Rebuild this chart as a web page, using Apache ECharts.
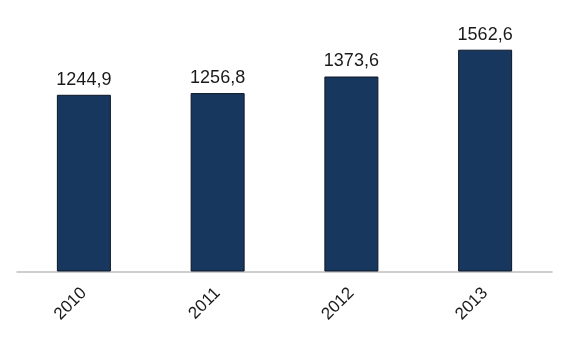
<!DOCTYPE html>
<html>
<head>
<meta charset="utf-8">
<script src="https://cdn.jsdelivr.net/npm/echarts@6/dist/echarts.min.js"></script>
<style>html,body{margin:0;padding:0;background:#fff}#c{width:568px;height:339px}</style>
</head>
<body>
<div id="c"></div>
<script>
var categories = ['2010', '2011', '2012', '2013'];
var values = [1244.9, 1256.8, 1373.6, 1562.6];

var chart = echarts.init(document.getElementById('c'), null, {renderer: 'canvas'});
chart.setOption({
  animation: false,
  backgroundColor: '#ffffff',
  grid: {left: 17, right: 16, top: 16, bottom: 67.5, containLabel: false},
  xAxis: {
    type: 'category',
    data: categories,
    axisLine: {lineStyle: {color: '#bfbfbf', width: 1.5}},
    axisTick: {show: false},
    axisLabel: {
      rotate: 45,
      margin: 19,
      fontFamily: 'Liberation Sans, Arial, sans-serif',
      fontSize: 17,
      color: '#1a1a1a'
    }
  },
  yAxis: {
    type: 'value',
    min: 0,
    max: 1800,
    show: false,
    splitLine: {show: false}
  },
  series: [{
    type: 'bar',
    data: values,
    barWidth: 54,
    itemStyle: {color: '#18375f', borderColor: '#0b1626', borderWidth: 1},
    label: {
      show: true,
      position: 'top',
      distance: 6,
      fontFamily: 'Liberation Sans, Arial, sans-serif',
      fontSize: 18,
      color: '#1a1a1a',
      formatter: function (p) { return p.value.toFixed(1).replace('.', ','); }
    }
  }]
});
</script>
</body>
</html>
